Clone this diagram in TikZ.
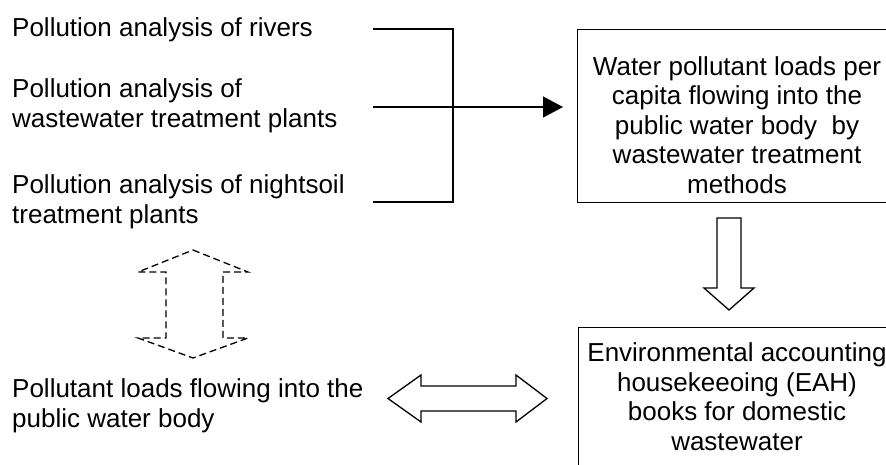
\documentclass[tikz,border=0pt]{standalone}
\usepackage{fontspec}
\setmainfont{Liberation Sans}
\usetikzlibrary{arrows.meta}

\tikzset{
    txt/.style = {inner sep=0pt, font=\fontsize{26}{29.5}\selectfont},
    bar/.style = {line width=1.3pt},
    boxed/.style = {draw, line width=1.3pt, inner sep=0pt, anchor=north west},
    dashline/.style = {line width=1.3pt, dash pattern=on 7pt off 4pt},
}

\begin{document}
\begin{tikzpicture}[x=1pt,y=-1pt]
    \useasboundingbox (0,0) rectangle (886,464);

    \node [txt, anchor=base west, align=left] (rivers) at (12,36) {Pollution analysis of rivers};
    \node [txt, anchor=base west, align=left] (wwtp) at (12,127) {Pollution analysis of\\wastewater treatment plants};
    \node [txt, anchor=base west, align=left] (night) at (12,223) {Pollution analysis of nightsoil\\treatment plants};
    \node [txt, anchor=base west, align=left] (loads) at (12,427) {Pollutant loads flowing into the\\public water body};

    \node [boxed, minimum width=330pt, minimum height=173pt] (percap) at (577,29) {};
    \node [txt, anchor=base, align=center] (percaptxt) at (737,193) {Water pollutant loads per\\capita flowing into the\\public water body \ by\\wastewater treatment\\methods};

    \node [boxed, minimum width=330pt, minimum height=160pt] (eah) at (578,327) {};
    \node [txt, anchor=base, align=center] (eahtxt) at (737,450) {Environmental accounting\\housekeeoing (EAH)\\books for domestic\\wastewater};

    \coordinate (r1) at (373,29);
    \coordinate (r2) at (373,107);
    \coordinate (r3) at (373,202);
    \draw [bar] (r1) -- ++(80,0) |- (r3);
    \draw [bar, -{Triangle[length=20pt,width=21pt]}, shorten >=14pt] (r2) -- (percap.west |- r2);

    \draw [bar, line join=miter] (717,218) -- (741,218) -- (741,288) -- (754,288) -- (729,310) -- (704,288) -- (717,288) -- cycle;

    \draw [bar, line join=miter] (388,398.5) -- (421,375) -- (421,386) -- (516,386) -- (516,375) -- (547,398.5) -- (516,422) -- (516,411) -- (421,411) -- (421,422) -- cycle;

    \draw [dashline] (193,250) -- (248,272) -- (223,272) -- (223,338) -- (248,338) -- (193,358) -- (138,338) -- (166,338) -- (166,272) -- (138,272) -- cycle;
\end{tikzpicture}
\end{document}
